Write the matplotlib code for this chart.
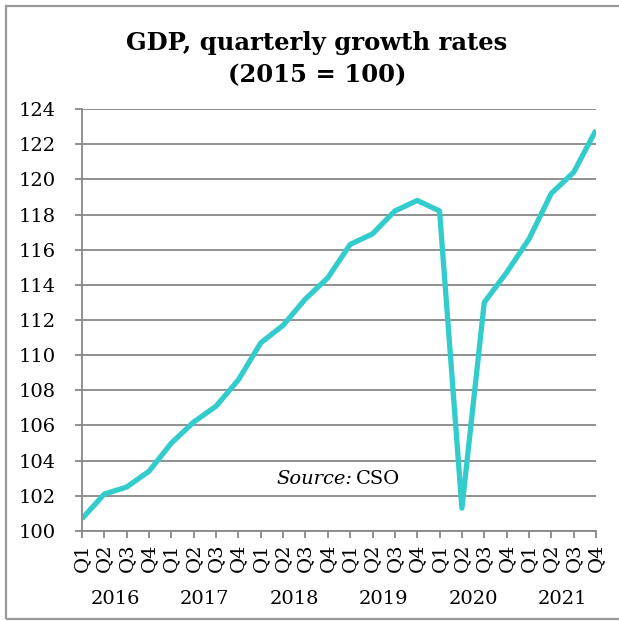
import matplotlib.pyplot as plt
from matplotlib.patches import Rectangle
from matplotlib.transforms import blended_transform_factory

years = ["2016", "2017", "2018", "2019", "2020", "2021"]
quarters = ["Q1", "Q2", "Q3", "Q4"]
gdp = [100.7, 102.1, 102.5, 103.4,
       105.0, 106.2, 107.1, 108.6,
       110.7, 111.7, 113.2, 114.4,
       116.3, 116.9, 118.2, 118.8,
       118.2, 101.3, 113.0, 114.7,
       116.6, 119.2, 120.4, 122.8]

W, H = 619, 621
plt.rcParams['font.family'] = ['DejaVu Serif']
fig = plt.figure(figsize=(W / 100, H / 100), dpi=100)

# outer border (left, top, bottom visible)
fig.patches.append(Rectangle((6 / W, 1 - 619 / H), 1.2, (619 - 6) / H,
                             transform=fig.transFigure, fill=False,
                             edgecolor='#999999', lw=1.6))

ax = fig.add_axes([82 / W, 1 - 531 / H, (596 - 82) / W, (531 - 109) / H])
x = list(range(len(gdp)))
ax.plot(x, gdp, color='#33CCCC', lw=3.8, solid_capstyle='butt')

ax.set_xlim(0, len(gdp) - 1)
ax.set_ylim(100, 124)
ax.set_yticks(range(100, 125, 2))
ax.set_xticks(x)
ax.set_xticklabels(quarters * len(years), rotation=90, fontsize=14)
ax.tick_params(axis='y', labelsize=14, pad=14)
ax.tick_params(axis='both', color='#888888', length=5, width=1.3)
ax.tick_params(axis='x', pad=4)
ax.grid(axis='y', color='#888888', lw=1.3)
ax.set_axisbelow(True)
for s in ['top', 'right']:
    ax.spines[s].set_visible(False)
for s in ['left', 'bottom']:
    ax.spines[s].set_color('#888888')
    ax.spines[s].set_linewidth(1.3)

tr = blended_transform_factory(ax.transData, fig.transFigure)
for i, yr in enumerate(years):
    ax.text(4 * i + 1.5, 1 - 599 / H, yr, transform=tr, ha='center',
            va='center', fontsize=14)

ax.text(12.1, 102.96, "Source:", style='italic', ha='right', va='center',
        fontsize=14)
ax.text(12.25, 102.96, "CSO", ha='left', va='center', fontsize=14)

fig.text(317 / W, 1 - 43 / H, "GDP, quarterly growth rates", ha='center',
         va='center', fontsize=17.5, fontweight='bold')
fig.text(317 / W, 1 - 75 / H, "(2015 = 100)", ha='center', va='center',
         fontsize=17.5, fontweight='bold')

fig.savefig("out.png", dpi=100)
